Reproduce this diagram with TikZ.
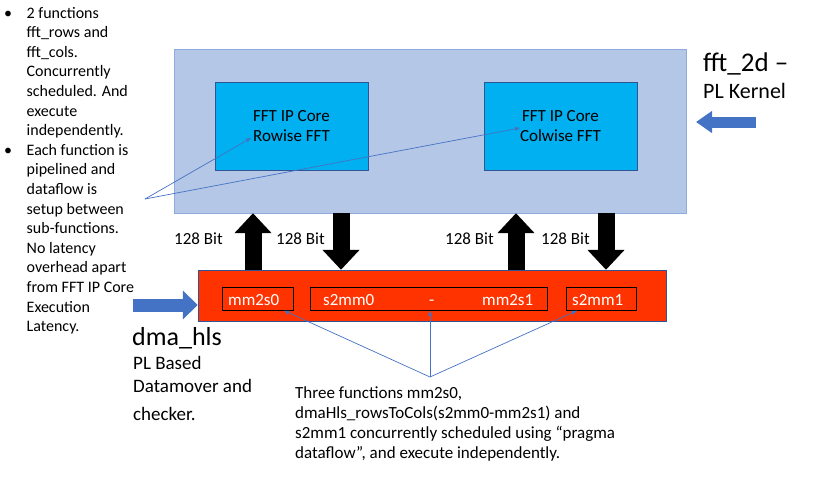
\documentclass[tikz,border=0pt]{standalone}
\usepackage{fontspec}
\setmainfont{Carlito}
\usetikzlibrary{arrows.meta}

\definecolor{kernelfill}{HTML}{B4C7E7}
\definecolor{kerneledge}{HTML}{8FAADC}
\definecolor{corefill}{HTML}{00B0F0}
\definecolor{coreedge}{HTML}{2F5597}
\definecolor{dmafill}{HTML}{FF3300}
\definecolor{pointerblue}{HTML}{4472C4}

\tikzset{
    corebox/.style = {shape = rectangle, draw = coreedge, fill = corefill, minimum width = 153pt, minimum height = 88pt, align = center, inner sep = 0pt},
    funcbox/.style = {shape = rectangle, draw = black, minimum height = 23pt, inner sep = 0pt},
    functext/.style = {anchor = base west, text = white, inner sep = 0pt},
    bus/.style = {line width = 17pt, -{Triangle[length = 20pt, width = 36pt]}},
    fatarrow/.style = {pointerblue},
    pointer/.style = {pointerblue, line width = 0.7pt, -{Triangle[length = 5pt, width = 4pt]}},
    note/.style = {anchor = base west, align = left, inner sep = 0pt}
}

\begin{document}
\begin{tikzpicture}[x = 1pt, y = -1pt, font = \fontsize{17}{20}\selectfont]
    \useasboundingbox (0,0) rectangle (815,477);

    % fft_2d kernel
    \node [shape = rectangle, draw = kerneledge, fill = kernelfill, minimum width = 512pt, minimum height = 164pt] (kernel) at (430,131) {};
    \node [corebox] (rows) at (291.5,126) {FFT IP Core\\Rowise FFT};
    \node [corebox] (cols) at (560.5,126) {FFT IP Core\\Colwise FFT};
    \node [note, font = \fontsize{27}{30}\selectfont] (kname) at (703,71) {fft\_2d --};
    \node [note, font = \fontsize{22}{25}\selectfont] (ksub) at (703,98) {PL Kernel};
    \coordinate (kin) at (756,122);
    \draw [fatarrow, line width = 11pt, -{Triangle[length = 16pt, width = 21pt]}] (kin) -- (696,122);

    % dma_hls
    \node [shape = rectangle, draw = coreedge, fill = dmafill, minimum width = 468pt, minimum height = 51pt] (dma) at (432,295.5) {};
    \node [funcbox, minimum width = 71pt] (mm2s0) at (257.5,299) {};
    \node [funcbox, minimum width = 237pt] (rowstocols) at (428.5,299) {};
    \node [funcbox, minimum width = 70pt] (s2mm1) at (601,299) {};
    \node [functext] (t0) at (228,305) {mm2s0};
    \node [functext] (t1) at (323,305) {s2mm0};
    \node [functext] (t2) at (429,305) {-};
    \node [functext] (t3) at (482,305) {mm2s1};
    \node [functext] (t4) at (572,305) {s2mm1};
    \node [note, font = \fontsize{26}{30}\selectfont] (dname) at (132,345) {dma\_hls};
    \node [note, font = \fontsize{19}{23}\selectfont] (dsub) at (133,392) {PL Based\\Datamover and};
    \node [note, font = \fontsize{19}{23}\selectfont] (dsub2) at (133,420) {checker.};
    \coordinate (din) at (133,305);
    \draw [fatarrow, line width = 13pt, -{Triangle[length = 15pt, width = 28pt]}] (din) -- (dma.west |- din);

    % 128 bit buses
    \foreach \x in {253, 341, 516, 606} {
        \coordinate (b\x) at (\x,240);
    }
    \draw [bus] (b253 |- dma.north) -- (b253 |- kernel.south);
    \draw [bus] (b341 |- kernel.south) -- (b341 |- dma.north);
    \draw [bus] (b516 |- dma.north) -- (b516 |- kernel.south);
    \draw [bus] (b606 |- kernel.south) -- (b606 |- dma.north);
    \node [note] (w1) at (174,244) {128 Bit};
    \node [note] (w2) at (276,244) {128 Bit};
    \node [note] (w3) at (445,244) {128 Bit};
    \node [note] (w4) at (541,244) {128 Bit};

    % left notes
    \begin{scope}[font = \fontsize{16}{19.6}\selectfont]
        \node [anchor = base] (bul1) at (8,18) {\textbullet};
        \node [anchor = base] (bul2) at (8,155.2) {\textbullet};
        \node [note] (notea) at (26.5,135.6) {2 functions\\fft\_rows and\\fft\_cols.\\Concurrently\\scheduled. And\\execute\\independently.};
        \node [note] (noteb) at (26.5,331.6) {Each function is\\pipelined and\\dataflow is\\setup between\\sub-functions.\\No latency\\overhead apart\\from FFT IP Core\\Execution\\Latency.};
    \end{scope}
    \coordinate (src) at (145,199);
    \coordinate (rowtip) at (251,138);
    \coordinate (coltip) at (520,128);
    \draw [pointer] (src) -- (rowtip);
    \draw [pointer] (src) -- (coltip);

    % bottom note
    \node [note] (notec) at (295,458) {Three functions mm2s0,\\dmaHls\_rowsToCols(s2mm0-mm2s1) and\\s2mm1 concurrently scheduled using “pragma\\dataflow”, and execute independently.};
    \coordinate (hub) at (430,377);
    \draw [pointer] (hub) -- ([xshift = -9pt]mm2s0.south east);
    \draw [pointer] (hub) -- ([xshift = 1.5pt]rowstocols.south);
    \draw [pointer] (hub) -- ([xshift = 11pt]s2mm1.south west);
\end{tikzpicture}
\end{document}
